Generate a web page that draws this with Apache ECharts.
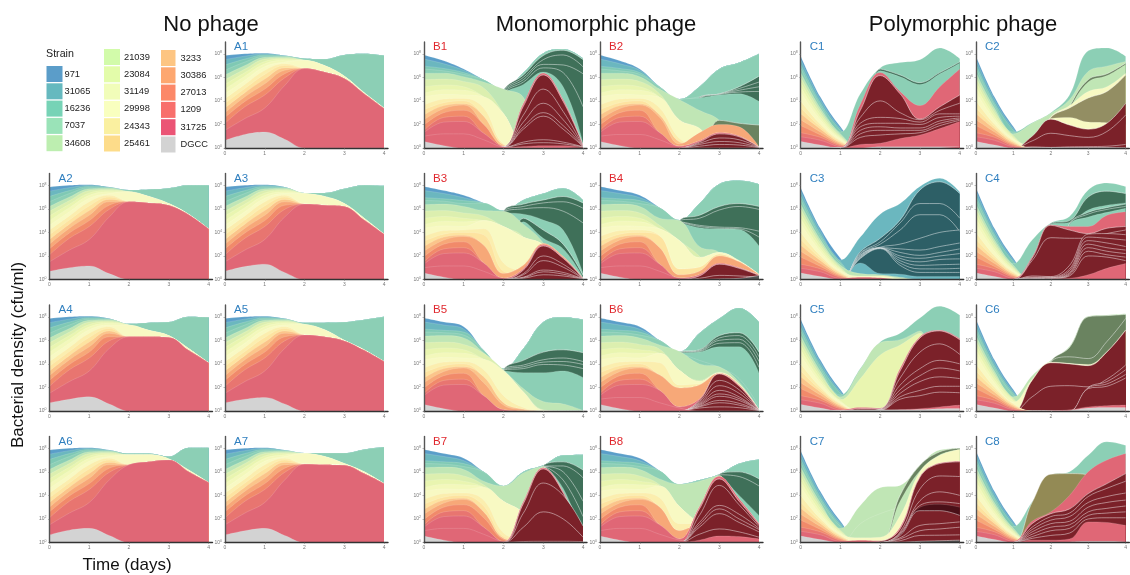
<!DOCTYPE html>
<html><head><meta charset="utf-8">
<style>html,body{margin:0;padding:0;background:#fff}#c{width:1130px;height:575px}</style>
<script src="https://cdn.jsdelivr.net/npm/echarts@6/dist/echarts.min.js"></script>
</head><body><div id="c"></div>
<script>
const days=[0,0.5,1,1.5,2,2.5,3,3.5,4];
const strains=["971","31065","16236","7037","34608","21039","23084","31149","29998","24343","25461","3233","30386","27013","1209","31725","DGCC"];
const yTicks=[0,2,4,6,8], xTicks=[0,1,2,3,4];

// log10(cfu/ml) upper edge of each strain at the early time points
const headA={"971":[7.85,8,8.05,7.85],"31065":[7.5,7.8,8,7.85],"16236":[7.05,7.55,7.9,7.82],"7037":[6.6,7.3,7.8,7.8],"34608":[6.2,7,7.7,7.75],"21039":[5.8,6.7,7.55,7.65],"23084":[5.4,6.4,7.35,7.55],"31149":[5,6.1,7.15,7.45],"29998":[4.6,5.75,6.9,7.3],"24343":[4.2,5.4,6.6,7.15],"25461":[3.8,5.05,6.25,7],"3233":[3.4,4.7,5.85,6.8],"30386":[3,4.35,5.45,6.6],"27013":[2.6,3.95,5,6.3],"1209":[2.1,3.5,4.5,5.95],"31725":[1.5,2.5,3.4,5.3],"DGCC":[0.65,1.1,1.3,0.7]};
const headB={"971":[7.9,7.55,7.15],"31065":[7.55,7.3,6.95],"16236":[6.95,6.85,6.7],"7037":[6.7,6.65,6.45],"34608":[6.35,6.4,6.2],"21039":[5.8,5.85,5.65],"23084":[5.2,5.35,5.2],"31149":[4.65,4.95,4.9],"29998":[4.35,4.55,4.5],"24343":[3.65,4.15,4.2],"25461":[3.25,3.85,4],"3233":[2.8,3.6,3.75],"30386":[2.4,3.35,3.65],"27013":[1.95,3,3.2],"1209":[1.5,2.6,2.7],"31725":[1.3,2.2,2.25],"DGCC":[0.55,0.2,0]};
const headBlow={...headB,"971":[7.9,7.4,6.7],"31065":[7.55,7.15,6.6],"16236":[6.95,6.75,6.4],"7037":[6.7,6.55,6.25],"34608":[6.35,6.35,6.05]};
const headC={"971":[7.8,4.3,1.8],"31065":[7.5,4.1,1.65],"16236":[7.1,3.8,1.5],"7037":[6.8,3.6,1.35],"34608":[6.4,3.35,1.2],"21039":[6,3.1,1.05],"23084":[5.6,2.85,0.95],"31149":[5.2,2.6,0.85],"29998":[4.75,2.35,0.75],"24343":[4,2,0.62],"25461":[3.4,1.8,0.55],"3233":[2.9,1.6,0.45],"30386":[2.4,1.35,0.35],"27013":[1.9,1.1,0.27],"1209":[1.3,0.9,0.18],"31725":[0.95,0.65,0.1],"DGCC":[0.55,0.25,0]};

const A1=[["7037",7.6,7.55,7.9,8,7.85],["29998",7.45,7,6.1,4.7,3.4],["31725",6.75,6.45,5.9,4.6,3.35],["DGCC",0.65,1.15,1.35,0.75,0,0,0,0,0]];
const A2=[["7037",7.6,7.65,7.75,8,8],["29998",7.45,7.05,6.45,5.55,4.3],["31725",6.6,6.5,6.3,5.5,4.3],["DGCC",0.7,1,1.15,0.5,0,0,0,0,0]];
const A3=[["7037",7.35,7.35,7.7,8,7.95],["29998",7.3,7.05,6.45,5.2,3.85],["31725",6.4,6.3,6.2,5.05,3.85],["DGCC",0.7,1.1,1.3,0.6,0,0,0,0,0]];
const A4=[["7037",7.4,7.5,7.55,8,7.95],["29998",7.3,6.85,6.4,5.3,4.1],["31725",6.3,6.3,6.25,5.15,4.1],["DGCC",0.7,1,1.2,0.6,0,0,0,0,0]];
const A5=[["7037",7.5,7.5,7.55,7.75,8],["29998",7.35,6.9,6,5.2,4.2],["31725",6.45,6.3,5.95,5.15,4.2],["DGCC",0.7,1,1.15,0.6,0,0,0,0,0]];
const A6=[["7037",7.55,7.55,7.3,8.05,8.05],["29998",7.45,7.45,7.1,6.15,5.1],["31725",6.6,6.85,7,6,5.1],["DGCC",0.65,1.05,1.2,0.6,0,0,0,0,0]];
const A7=[["7037",7.6,7.6,7.6,7.9,8.1],["29998",7.55,7.3,6.7,6,5],["31725",6.65,6.6,6.55,5.85,5],["DGCC",0.65,1,1.2,0.6,0,0,0,0,0]];

const B1=[["7037",5.8,5,6.4,8.05,8.4,7.6],["7037m",4.9,6.2,7.85,8.3,7.5],["7037m",4.8,6,7.5,7.9,6.9],["7037m",4.7,5.8,7.1,7.05,6.3],["7037m",4.6,5.6,6.8,6.4,3.5],["7037",4.5,5.4,6.45,5.2,0.4],
["34608",5.6,5,4.3,0,0,0],["21039",5.1,2.95,0.3,0,0,0],["29998",4.35,2.9,0.25,0,0,0],["24343",3.4,0.35,0,0,0,0],["3233",2.7,0.25,0,0,0,0],["27013",2,0.15,0,0,0,0],
["31725",1.25,0.12,3.75,6.35,4.1,0.25],["31725m",0.1,3.55,6.2,3.95,0.2],["31725m",0.08,2.8,5,3.1,0.15],["31725m",0.07,2.2,3.8,2.4,0.14],["31725m",0.06,1.8,3,1.9,0.12],["31725m",0.05,1.6,2.7,1.6,0.1],["31725m",0.04,0.5,0.7,0.5,0.1],["31725m",0.03,0.35,0.45,0.35,0.08],["31725",0.02,0.12,0.2,0.2,0.06],["31725",1,1.2,1.2,0.7,0.08,0,0,0,0]];
const B2=[["7037",5.2,4.15,5.2,6.7,7.25,8],["7037",5.1,4.1,4.35,4.55,4.7,5.2],["7037m",4.3,4.6,5.2,6.1],["7037m",4.25,4.58,5.05,5.6],["7037m",4.2,4.56,4.9,5.2],["7037m",4.15,4.54,4.75,4.8],["7037",4.05,4.25,4.5,4.6,3.95],
["34608",5,4.1,3.2,2.35,0,0],["34608m",2.35,2.1,1.95],["21039",4.6,2.4,1.7,0,0,0],["29998",4.3,2.35,1.65,0,0,0],["24343",3.4,0.8,0.2,0,0,0],["3233",2.8,0.5,0.2,0,0,0],["30386",2.6,0.35,1.3,2,1.8,0.1],
["31725",1.3,0.15,0.6,1.3,1,0.08],["31725m",0.5,1.2,0.95,0.07],["31725m",0.4,0.85,0.7,0.06],["31725m",0.3,0.55,0.45,0.05],["31725m",0.15,0.3,0.25,0.03],["31725",1,1.15,1.15,0.7,0.1,0,0,0,0]];
const B3=[["7037",6.5,5.85,6.75,7.3,7.75,6.75],["7037m",5.8,6.4,6.75,7.05,6.5],["7037m",5.75,6.2,6.5,6.6,6.05],["7037m",5.7,6,6.1,5.8,4.8],["7037",5.65,5.55,5.05,4.2,0.5],["7037m",5.2,4.2,3,0.35],["7037",4.9,3.5,2.6,0.2],
["34608",5.85,5.8,4.7,3.1,0,0],["21039",5.4,4.5,3.6,0,0,0],["29998",5,4.5,3.6,2.9,0,0],["24343",4.3,1.4,0.6,0,0,0],["25461",3.8,0.7,0.4,0,0,0],["30386",2.9,0.5,1.2,3.05,1.95,0.12],
["31725",1.4,0.1,0.9,2.95,1.85,0.1],["31725m",0.8,2.85,1.8,0.08],["31725m",0.5,2,1.3,0.07],["31725m",0.4,1.6,1.05,0.06],["31725m",0.2,0.8,0.6,0.05],["31725m",0.15,0.65,0.45,0.04],["31725m",0.1,0.4,0.3,0.03],["31725",1,1.15,1.15,0.7,0.1,0,0,0,0]];
const B4=[["7037",6.1,5.05,6.45,8.1,8.4,8.1],["7037m",5,5.45,6.2,6.45,6.2],["7037m",4.98,5.2,5.9,6.2,5.95],["7037m",4.9,4.6,4.45,4.4,4.1],["7037m",4.85,4.5,4.35,4.3,3.6],["7037",4.8,4.4,4.3,4.25,2.85],
["34608",5.2,5,2.8,2.3,0,0],["21039",4.6,3.3,2,0,0,0],["29998",4.3,3.3,1.85,2.3,1.6,0.45],["25461",3.7,0.9,1.05,2.15,1.5,0.42],["30386",2.7,0.4,0.7,2,1.5,0.4],
["31725",1.3,0.12,0.4,1.35,1,0.37],["31725m",0.3,1.3,0.95,0.35],["31725m",0.1,0.35,0.3,0.2],["31725",1,1.15,1.15,0.7,0.1,0,0,0,0],["DGCCm",0.05,0.1,0.35]];
const B5=[["7037",5.15,3.6,5.3,7.55,7.95,7.75],["7037m",3.55,4.3,5,5.2,4.95],["7037m",3.52,3.9,4.35,4.5,4.2],["7037m",3.5,3.75,4.15,4.2,3.95],["7037m",3.48,3.6,3.95,3.9,3.6],["7037",3.4,3.25,3.25,3.4,2.85],
["34608",4.95,3.5,1.9,0.8,0.6,0.05],["21039",4.9,3.45,1.65,0.1,0,0],["29998",4.4,3.4,1.6,0.05,0,0],["24343",3.5,1.3,0.3,0,0,0],["3233",2.9,0.7,0.15,0,0,0],["30386",2.4,0.5,0.1,0,0,0],["31725",1.3,0.1,0,0,0,0]];
const B6=[["7037",6,5.05,6.6,7.85,8.75,7.55],["7037m",5,5.2,6.4,6.65,5],["7037m",4.98,5.15,6.2,6.4,4.6],["7037m",4.96,5.1,6,6.1,4.2],["7037m",4.94,5.05,5.75,5.8,3.7],["7037",4.9,5,5.45,5.45,3.2],["7037",4.85,4.3,3.7,2.75,0.35],
["34608",5.6,5.05,4,3.75,2.45,0.15],["21039",5.25,3.45,2.6,3.3,2.3,0.1],["29998",4.9,3.45,2.5,3.25,2.25,0.08],["24343",4.1,2.2,2.3,0,0,0],["30386",3.05,1.95,2.2,3.2,2.2,0.07],
["31725",1.75,0.35,1,3.15,2.15,0.06],["31725m",0.9,3.15,2.1,0.05],["31725m",0.8,2.6,1.8,0.05],["31725m",0.7,2.15,1.5,0.05],["31725m",0.62,1.75,1.2,0.04],["31725m",0.55,1.45,1.05,0.04],["31725m",0.48,1.25,0.9,0.03],["31725m",0.4,0.9,0.65,0.03],["31725m",0.35,0.7,0.5,0.02],["31725m",0.25,0.35,0.28,0.02],["31725",1,1.15,1.15,0.7,0.25,0,0,0,0]];
const B7=[["7037",6,4.8,6,6.55,7.4,7.45],["7037m",6.5,6.85,6.15],["7037m",6.48,6.5,5.5],["7037m",6.46,6,3.5],["7037m",6.45,5.3,2.2],["7037",6.44,4.6,0.3],
["34608",5.2,4.8,5.9,6.45,0,0],["21039",4.9,3.5,2.5,0,0,0],["29998",4.7,3.5,2.5,0,0,0],["24343",3.6,0.8,0.3,0,0,0],["25461",3.1,0.5,0.2,0,0,0],["30386",2.6,0.35,0.1,0,0,0],["27013",2.1,0.25,0,0,0,0],
["31725",1.3,0.05,3.45,6.35,4.3,0.15],["31725m",3.3,6.25,4.2,0.12],["31725m",2.5,5.05,4,1.4],["31725m",1.3,2.6,2,0.45],["31725m",0.08,0.1,0.1,0.08],["31725",1,1.2,1.2,0.7,0.08,0,0,0,0]];
const B8=[["7037",6.1,4.95,5.3,5.8,6.7,7.05],["7037m",5.8,6,5.4],["7037m",5.75,5.6,4.8],["7037",5.6,4,2.3],
["34608",5.4,4.95,5.2,5.7,0,0],["21039",4.9,3.05,1.6,0,0,0],["29998",4.8,3.05,1.5,0,0,0],["24343",3.8,1.6,1.6,0,0,0],["30386",3,1,1.5,0,0,0],
["31725",1.5,0.3,3,5.6,3.7,1.6],["31725m",2.85,5.4,3.5,1.5],["31725m",2.3,4.85,3.2,1.35],["31725m",1.7,3.15,2.4,1.2],["31725m",1.5,2.85,2,1.1],["31725m",1.3,2.45,1.7,0.9],["31725m",0.7,1.15,0.9,0.45],["31725",0.2,0.55,0.5,0.3],["31725",1,1.2,1.2,0.7,0.2,0,0,0,0]];

const C1=[["7037",4.6,6.8,7.25,7.5,8.5,7.6],["7037m",6.7,6.2,5.55,6.4,7.3],["7037",6.55,6.05,5.4,6.3,7.2],
["31725",3.7,6.4,4.8,3.6,5.2,6.7],["31725m",3.2,6.15,4.6,2.45,3.5,4.5],["31725m",2.6,4,3,2.4,3.2,3.8],["31725m",2.1,2.6,2.5,2.2,2.9,2.9],["31725m",1.8,2.1,2.1,2,2.6,2.7],["31725m",1.5,1.8,1.7,1.7,2.3,2.55],["31725m",1.2,1.5,1.5,1.5,2.1,2.45],["31725m",0.9,1.1,1.2,1.3,1.9,2.35],["31725",0.3,0.4,0.8,1.1,1.65,2.25],["DGCC",0,0.1,0.1,0.1,0.1,0.1]];
const C2=[["7037",2.15,3,4.5,8.25,8.5,7.8],["34608",2.1,2.95,4.1,6.5,6.95,7.35],["34608m",0,3.5,5.8,6.3,7.2],["34608",0,3.3,5.6,6.15,7.1],["29998",0.2,2.65,3.6,4.8,5.2,6.35],["29998m",2.6,3.4,4.25,4.8,6.2],["29998",2.5,2.6,2.2,2.15,2],
["31725m",1,2.45,1.95,1.6,2.1,3.8],["31725m",0.6,1.25,1.05,0.9,1.4,2.8],["31725m",0.1,0.05,0.1,0.12,0.15,0.3],["DGCC",0.05,0.05,0.05,0.05,0.05,0.05]];
const C3=[["31065",3.6,5.55,6.45,7.9,8.6,7.45],["31065m",2.35,3.5,5.05,7.6,8.3,7.3],["31065m",2.25,3.2,4.8,6.45,6.45,5.2],["31065m",2.2,3,4.2,5.5,5.5,4.05],["31065m",2.1,2.75,3,3.5,4,4.2],["31065m",2.05,2.7,2.6,2.5,2.8,3.1],["31065m",2,2.68,2.3,2.05,2.3,2.6],["31065m",1.95,2.66,2,1.8,2,2.2],["31065m",1.9,2.65,1.8,1.5,1.7,1.75],["31065m",1.85,2.64,1.6,1.2,1.25,1.3],["31065m",1.8,2.63,1.4,0.9,0.9,0.95],["31065m",1.78,2.62,1.2,0.6,0.6,0.6],["31065",1.4,0.5,0.45,0.25,0.25,0.25],["34608",0.5,0.4,0.2,0,0,0],["29998",0.3,0.3,0.1,0,0,0],["31725",0.2,0.15,0,0,0,0]];
const C4=[["7037",3.35,4.8,5.35,7.6,8.2,7.9],["7037m",4.75,5,7,7.5,7.3],["7037",4.7,4.85,5.9,6.3,6.5],["7037m",0,4.75,5.7,6.1,6.4],["7037m",0,4.7,5.55,5.95,6.2],["7037",0,4.65,5.3,5.7,6.05],
["31725",1.9,4.65,4.5,4.5,5.45,5.75],["31725m",1.8,4.6,4.2,3.9,4.35,4.5],["31725m",1.6,3.55,3.5,3.5,3.9,4.2],["31725m",0.3,0.25,1.2,3.85,3.9,3.8],["31725m",0.2,0.2,0.9,3.6,3.5,3.35],["31725m",0.15,0.15,0.75,3.3,3.1,2.8],["31725m",0.1,0.12,0.6,3,2.7,2.5],["31725m",0.08,0.1,0.5,2.7,2.4,2.2],["31725m",0.06,0.08,0.4,2.4,2.1,1.9],["31725m",0.04,0.06,0.3,2,1.9,1.6],["31725",0.02,0.05,0.1,0.4,0.95,1.35]];
const C5=[["7037",3.6,5.85,6.6,7.9,8.9,8.15],["34608",3.55,5.8,6.05,6.8,0,0],["23084",2.75,4.75,5.6,6.6,0,0],["31725",0.3,0.25,3.6,6.3,6.85,6.15],["31725m",0.2,0.2,3.4,6.2,6.8,6.05],["31725m",0,0.15,2.8,5,5.7,4.8],["31725m",0,0.12,2.2,3.6,4.3,4],["31725m",0,0.1,1.8,3,3.65,3.4],["31725m",0,0.08,1.5,2.5,2.9,2.75],["31725m",0,0.06,1.2,1.75,2.1,2.1],["31725m",0,0.05,1,1.3,1.6,1.55],["31725",0,0,0.1,0.2,0.35,0.5],["DGCC",0.1,0.1,0.1,0.12,0.2,0.22]];
const C6=[["34608",3,4.3,5.5,8.05,8.15,8.25],["34608m",4.2,5.4,8,8.1,8.2],["34608m",4.15,4.6,4.45,5.9,7.85],["29998",2.7,4.15,4.05,3.95,5.05,6.9],["31725m",2.6,4.1,4,3.85,5,6.85],["31725m",1.2,2.1,2.15,2.05,2.7,3.9],["31725m",0,0,0,2,2.5,3.5],["31725m",0,0,0,1.95,2.3,3.1],["31725m",0,0,0,1.9,2.1,2.8],["31725",0,0.02,0.1,0.35,0.45,0.5],["DGCC",0,0,0.05,0.25,0.3,0.3]];
const C7=[["34608",3.15,4.65,4.85,6.55,7.85,8],["34608",1.6,2.45,2.9,0,0,0],["34608m",4,6.55,7.7,8],["34608",0,3.5,6.1,7.45,7.9],["29998",0.4,0.45,2.3,6,7.4,7.9],["31725",0.2,0.15,1.3,5.6,6.75,6.9],["31725m",0.1,1.15,5.55,6.7,6.85],["31725m",0,0.9,4.55,5.65,5.6],["31725m",0,0.8,3.55,4.3,4],["31725m",0,0.7,3.15,3.45,3.3],["31725dk",0,0.65,3,3.25,3],["31725m",0,0.6,2.7,2.7,2.3],["31725m",0,0.4,1.45,1.6,1.75],["31725m",0,0.3,1,1.15,1.3],["31725m",0,0.15,0.6,0.62,0.65],["DGCCm",0,0.02,0.1,0.15,0.2]];
const C8=[["7037",3.45,5.7,6,7.4,8.55,8.25],["24343m",3.4,5.8,5.85,5.7,0,0],["31725",1.8,2.6,4,6,7,7.55],["31725m",1.6,2.45,2.85,4.15,5,5.85],["31725m",1.3,2.2,2.5,3.9,4.6,5.2],["31725m",1.1,1.9,2.2,3.4,3.9,4.2],["31725m",0.9,1.6,1.8,3,3.4,3.6],["31725m",0.7,1.3,1.5,2.6,2.9,3.1],["31725m",0.5,1,1.2,2.3,2.5,2.6],["31725m",0.35,0.6,0.8,2,2.1,2.1],["31725",0.2,0.2,0.3,1.75,1.7,1.45],["DGCC",0,0,0.05,0.1,0.1,0.1]];

const panelsA=[["A1",A1,225,148],["A2",A2,49.5,279.5],["A3",A3,225,279.5],["A4",A4,49.5,411],["A5",A5,225,411],["A6",A6,49.5,542.5],["A7",A7,225,542.5]];
const panelsB=[["B1",B1,424,148,headBlow],["B2",B2,600,148,headBlow],["B3",B3,424,279.5],["B4",B4,600,279.5],["B5",B5,424,411],["B6",B6,600,411],["B7",B7,424,542.5],["B8",B8,600,542.5]];
const panelsC=[["C1",C1,800.7,148],["C2",C2,976,148],["C3",C3,800.7,279.5],["C4",C4,976,279.5],["C5",C5,800.7,411],["C6",C6,976,411],["C7",C7,800.7,542.5],["C8",C8,976,542.5]];

const legendCol={"971":"#5b9dc9","31065":"#66b9bf","16236":"#77d3b6","7037":"#9ae3b8","34608":"#bdeeb0","21039":"#d2fbaa","23084":"#e3fcaa","31149":"#f1fdb9","29998":"#f9ffbf","24343":"#faf0a0","25461":"#fddc8a","3233":"#fdc582","30386":"#fda770","27013":"#fc8868","1209":"#f86f6c","31725":"#eb5475","DGCC":"#d3d3d3"};
const fillCol={"971":"#5a9ec9","31065":"#6bb7bf","16236":"#7fc9b4","7037":"#8ccfb5","34608":"#c0e6b5","21039":"#dcefaf","23084":"#e9f5b0","31149":"#f3f8bb","29998":"#f8f9c3","24343":"#fbeeae","25461":"#fde3a0","3233":"#fbc58a","30386":"#f7a878","27013":"#f18a6a","1209":"#e87570","31725":"#e06776","DGCC":"#d3d3d3",
"7037m":"#3f7059","31725m":"#7b2129","31725dk":"#4a1018","31065m":"#2d5f66","34608m":"#6a8360","29998m":"#938e63","24343m":"#938a55","DGCCm":"#555555"};

function layers(rows,head,inherit){
  const out=[],used={};let i=0;
  const z=(h,v)=>{const a=(h||[]).slice(0,9-v.length);while(a.length+v.length<9)a.push(0);return a.concat(v);};
  rows.forEach(r=>{
    const name=r[0],v=r.slice(1),idx=strains.indexOf(name);
    if(idx>=i&&!used[name]){
      for(;i<idx;i++){const s=strains[i];used[s]=1;
        const h=head[s];out.push([s,inherit?z(h,v.slice(-(9-h.length))):z(h,Array(9-h.length).fill(0))]);}
      used[name]=1;i=idx+1;out.push([name,z(head[name],v)]);
    } else out.push([name,z(null,v)]);
  });
  for(;i<strains.length;i++){const s=strains[i],h=head[s];out.push([s,z(h,Array(9-h.length).fill(0))]);}
  return out;
}

const W=163,H=106;
const grid=[],xAxis=[],yAxis=[],series=[];
const ts=(s,c)=>({fontSize:s,fontWeight:"normal",color:c,fontFamily:"Liberation Sans"});
const title=[
 {text:"No phage",left:211,top:14,padding:0,textAlign:"center",textStyle:ts(22,"#111")},
 {text:"Monomorphic phage",left:596,top:14,padding:0,textAlign:"center",textStyle:ts(22,"#111")},
 {text:"Polymorphic phage",left:963,top:14,padding:0,textAlign:"center",textStyle:ts(22,"#111")},
 {text:"Time (days)",left:127,top:557,padding:0,textAlign:"center",textStyle:ts(17,"#111")},
 {text:"Strain",left:46,top:49,padding:0,textStyle:ts(10.7,"#222")}
];
function addPanel(p,head,inherit,col){
  const k=grid.length,[label,rows,x,y0]=p;
  grid.push({left:x,top:y0-H,width:W,height:H});
  xAxis.push({gridIndex:k,type:"value",min:0,max:4.1,interval:1,z:1000,splitLine:{show:false},
    axisLine:{lineStyle:{color:"#333",width:1.4}},axisTick:{length:1.5,customValues:xTicks,lineStyle:{color:"#777",width:0.5}},
    axisLabel:{customValues:xTicks,fontSize:5,color:"#777",margin:3,fontFamily:"Liberation Sans"}});
  yAxis.push({gridIndex:k,type:"value",min:0,max:9,interval:1,z:1000,splitLine:{show:false},
    axisLine:{show:true,lineStyle:{color:"#555",width:1.4}},axisTick:{length:1.5,customValues:yTicks,lineStyle:{color:"#777",width:0.5}},
    axisLabel:{customValues:yTicks,margin:3,formatter:v=>`{b|10}{s|${v}}`,rich:{b:{fontSize:5,color:"#777",fontFamily:"Liberation Sans"},s:{fontSize:3.5,color:"#777",padding:[0,0,3,0],fontFamily:"Liberation Sans"}}}});
  title.push({text:label,left:x+9,top:y0-107,padding:0,textStyle:ts(11.5,col)});
  layers(rows,p[4]||head,inherit).forEach(([name,vals],n)=>{
    const isMut=/m$/.test(name);
    series.push({name,type:"line",xAxisIndex:k,yAxisIndex:k,z:2+n,data:vals.map((v,i)=>[days[i],v]),smooth:0.4,showSymbol:false,symbol:"none",silent:true,
      itemStyle:{color:legendCol[name]||fillCol[name]},
      lineStyle:{color:"#fff",width:isMut?0.7:0.5,opacity:isMut?0.65:0.3},
      areaStyle:{color:fillCol[name],opacity:1}});
  });
}
panelsA.forEach(p=>addPanel(p,headA,true,"#2f7fbf"));
panelsB.forEach(p=>addPanel(p,headB,true,"#e0282e"));
panelsC.forEach(p=>addPanel(p,headC,false,"#2f7fbf"));

const leg=(names,left,top,w,dx)=>({data:names,orient:"vertical",left,top,padding:0,icon:"rect",itemWidth:w,itemHeight:16,itemGap:1.3,selectedMode:false,textStyle:{fontSize:9.3,color:"#222",fontFamily:"Liberation Sans",padding:[0,0,0,dx]}});
const chart=echarts.init(document.getElementById("c"),null,{renderer:"canvas"});
chart.setOption({animation:false,backgroundColor:"#fff",grid,xAxis,yAxis,series,title,
  legend:[leg(strains.slice(0,5),46.5,66,16,-3),leg(strains.slice(5,11),104,49,16,-1),leg(strains.slice(11),161,50,14.5,0)],
  graphic:[{type:"text",rotation:Math.PI/2,x:18,y:355,style:{text:"Bacterial density (cfu/ml)",font:"17px 'Liberation Sans'",fill:"#111",textAlign:"center",textVerticalAlign:"middle"}}]
});
</script></body></html>
